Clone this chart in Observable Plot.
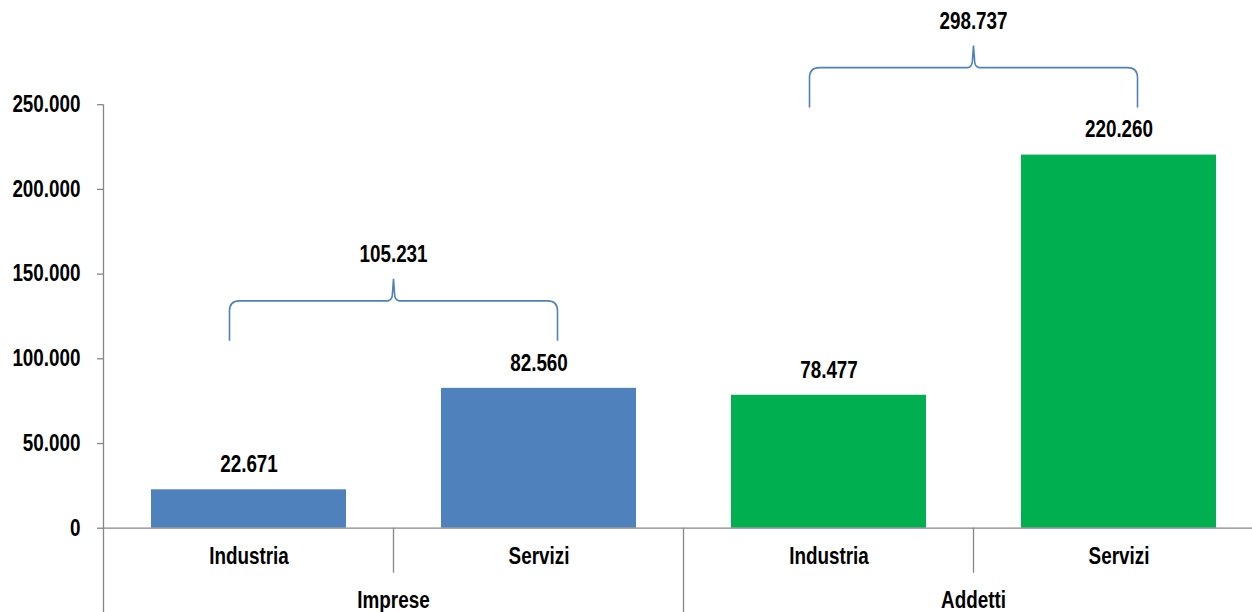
<!DOCTYPE html>
<html><head><meta charset="utf-8">
<script src="https://cdn.jsdelivr.net/npm/d3@7"></script>
<script src="https://cdn.jsdelivr.net/npm/@observablehq/plot@0.6"></script>
<style>html,body{margin:0;padding:0;background:#fff;overflow:hidden}</style>
</head><body><div id="chart"></div>
<script>
const groups = ["Imprese", "Imprese", "Addetti", "Addetti"];
const sectors = ["Industria", "Servizi", "Industria", "Servizi"];
const values = [22671, 82560, 78477, 220260];
const groupNames = ["Imprese", "Addetti"];
const groupTotals = [105231, 298737];
const yTicks = [0, 50000, 100000, 150000, 200000, 250000];
const groupColors = ["#4F81BD", "#00B050"];

const FONT = "'Liberation Sans Narrow','Arial Narrow','Liberation Sans',Arial,sans-serif";
const FS = 23;
const NARROW = 0.82; // horizontal compression to mimic Arial Narrow
const AXIS = "#868686";
const locale = d3.formatLocale({decimal: ",", thousands: ".", grouping: [3], currency: ["€", ""]});
const fmt = locale.format(",d");

const data = values.map((v, i) => ({key: groups[i] + "|" + sectors[i], group: groups[i], sector: sectors[i], value: v}));
const keys = data.map(d => d.key);
const colorOf = g => groupColors[groupNames.indexOf(g)];

function decorations(index, scales, vals, dims) {
  const x = scales.x, y = scales.y;
  const bw = typeof x.bandwidth === "function" ? x.bandwidth() : x.bandwidth;
  const center = k => x(k) + bw / 2;
  const step = center(keys[1]) - center(keys[0]);
  const y0 = y(0);
  const g = d3.create("svg:g");
  g.append("line").attr("x1", center(keys[0]) - step / 2).attr("x2", center(keys[0]) - step / 2)
    .attr("y1", y(d3.max(yTicks))).attr("y2", dims.height).attr("stroke", AXIS).attr("stroke-width", 1.3);
  keys.forEach((k, i) => {
    const xl = center(k) - step / 2;
    const first = i === 0 || data[i - 1].group !== data[i].group;
    if (i > 0) g.append("line").attr("x1", xl).attr("x2", xl).attr("y1", y0)
      .attr("y2", first ? dims.height : y0 + 45).attr("stroke", AXIS).attr("stroke-width", 1.3);
  });
  groupNames.forEach((gn, gi) => {
    const ks = data.filter(d => d.group === gn);
    const cx = d3.mean(ks, d => center(d.key));
    g.append("text").attr("x", cx).attr("y", y0 + 73).attr("dy", "0.32em")
      .attr("text-anchor", "middle").text(gn);
    const b = y(d3.max(ks, d => d.value)) - 47;
    const h = b - 40, tip = b - 62, hw = 164, r = 10;
    const p = `M${cx - hw},${b} L${cx - hw},${h + r} Q${cx - hw},${h} ${cx - hw + r},${h} L${cx - 6},${h}` +
      ` Q${cx - 1},${h} ${cx - 1},${h - 8} L${cx},${tip} L${cx + 1},${h - 8} Q${cx + 1},${h} ${cx + 6},${h}` +
      ` L${cx + hw - r},${h} Q${cx + hw},${h} ${cx + hw},${h + r} L${cx + hw},${b}`;
    g.append("path").attr("d", p).attr("fill", "none").attr("stroke", "#4F81BD").attr("stroke-width", 1.6);
    g.append("text").attr("x", cx).attr("y", b - 86).attr("dy", "0.32em")
      .attr("text-anchor", "middle").text(fmt(groupTotals[gi]));
  });
  return g.node();
}

const plot = Plot.plot({
  width: 1252, height: 612,
  marginLeft: 103, marginRight: 0, marginTop: 0, marginBottom: 0,
  style: {fontFamily: FONT, fontWeight: "bold", fontSize: FS + "px", color: "#000", background: "#fff"},
  x: {domain: keys, range: [102.7, 1264], paddingInner: 0.326, paddingOuter: 0.163, axis: null},
  y: {domain: [0, 250000], range: [527.7, 104.2], axis: null},
  marks: [
    Plot.barY(data, {x: "key", y: "value", fill: d => colorOf(d.group)}),
    Plot.ruleY([0], {stroke: AXIS, strokeWidth: 1.3}),
    Plot.axisY(yTicks, {tickFormat: fmt, tickSize: 6, tickPadding: 17, fontSize: FS, stroke: AXIS, fill: "#000", strokeWidth: 1.3, label: null}),
    Plot.text(data, {x: "key", y: "value", text: d => fmt(d.value), dy: -25, fontSize: FS, fill: "#000"}),
    Plot.text(data, {x: "key", y: () => 0, text: "sector", dy: 28.5, fontSize: FS, fill: "#000"}),
    decorations
  ]
});
document.getElementById("chart").appendChild(plot);

// compress text horizontally around its anchor (no narrow font installed)
plot.querySelectorAll("text").forEach(t => {
  const b = t.getBBox();
  const anchor = getComputedStyle(t).textAnchor;
  const ax = anchor === "middle" ? b.x + b.width / 2 : anchor === "end" ? b.x + b.width : b.x;
  const prev = t.getAttribute("transform") || "";
  t.setAttribute("transform", `${prev} translate(${ax},0) scale(${NARROW},1) translate(${-ax},0)`.trim());
});
</script>
</body></html>
